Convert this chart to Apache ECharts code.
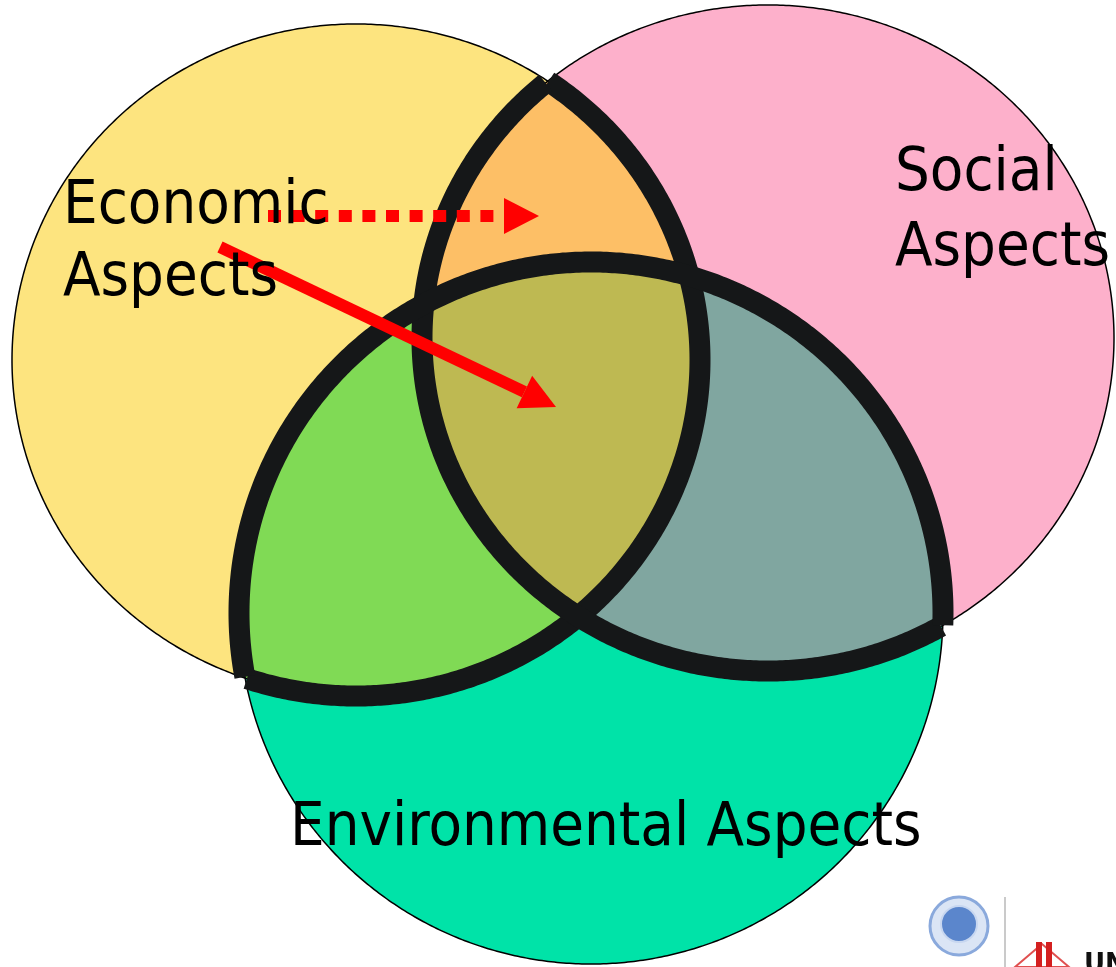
<!DOCTYPE html>
<html>
<head>
<meta charset="utf-8">
<style>html,body{margin:0;padding:0;background:#fff;overflow:hidden}#chart{width:1116px;height:967px}</style>
<script src="https://cdn.jsdelivr.net/npm/echarts@6/dist/echarts.min.js"></script>
</head>
<body>
<div id="chart"></div>
<script>
// three aspects, drawn as ellipses in picture space (x right, y down)
const setNames = ['Economic', 'Social', 'Environmental'];
const centerX = [356, 768, 591];
const centerY = [360, 338, 613];
const radiusX = [344, 346, 352];
const radiusY = [336, 333, 351];
const setColors = ['#fde47f', '#fdb0cb', '#00e3a8'];

// overlaps: which sets, and their fill
const overlapSets = [[0, 1], [0, 2], [1, 2], [0, 1, 2]];
const overlapColors = ['#fdbf66', '#80da55', '#80a6a0', '#beb952'];

const labelText = ['Economic', 'Aspects', 'Social', 'Aspects', 'Environmental Aspects'];
const labelX = [63, 63, 895, 895, 290];
const labelBaseline = [228, 300, 195, 270, 850];

const arrowStart = [[268, 216], [220, 247]];
const arrowTip = [[539, 216], [556, 407]];
const arrowDashed = [true, false];

const STEPS = 720;
const FONT = '61px "DejaVu Sans Condensed", "DejaVu Sans", sans-serif';

function ellipsePts(i) {
    const pts = [];
    for (let k = 0; k < STEPS; k++) {
        const t = k / STEPS * Math.PI * 2;
        pts.push([centerX[i] + radiusX[i] * Math.cos(t), centerY[i] + radiusY[i] * Math.sin(t)]);
    }
    return pts;
}

function inside(i, p) {
    const dx = (p[0] - centerX[i]) / radiusX[i];
    const dy = (p[1] - centerY[i]) / radiusY[i];
    return dx * dx + dy * dy <= 1;
}

// intersection of ellipses is convex, so sort boundary points by angle
function overlapPolygon(ids) {
    const pts = [];
    ids.forEach(i => ellipsePts(i).forEach(p => {
        if (ids.every(j => j === i || inside(j, p))) pts.push(p);
    }));
    const mx = pts.reduce((s, p) => s + p[0], 0) / pts.length;
    const my = pts.reduce((s, p) => s + p[1], 0) / pts.length;
    pts.sort((a, b) => Math.atan2(a[1] - my, a[0] - mx) - Math.atan2(b[1] - my, b[0] - mx));
    return pts;
}

// parts of ellipse i lying inside any other ellipse -> thick outline runs
function innerArcs(i) {
    const pts = ellipsePts(i);
    const flag = pts.map(p => [0, 1, 2].some(j => j !== i && inside(j, p)));
    const start = flag.indexOf(false);
    const runs = [];
    let cur = null;
    for (let k = 0; k <= STEPS; k++) {
        const idx = (start + k) % STEPS;
        if (flag[idx]) { (cur = cur || []).push(pts[idx]); }
        else if (cur) { runs.push(cur); cur = null; }
    }
    return runs;
}

const toPx = (api, pts) => pts.map(p => api.coord(p));

const chart = echarts.init(document.getElementById('chart'));

chart.setOption({
    animation: false,
    backgroundColor: '#ffffff',
    grid: { left: 0, right: 0, top: 0, bottom: 0 },
    xAxis: { type: 'value', min: 0, max: 1116, show: false },
    yAxis: { type: 'value', min: 0, max: 967, inverse: true, show: false },
    series: [
        {
            name: 'sets', type: 'custom', silent: true,
            data: setNames.map((n, i) => [i, 0]),
            renderItem: (params, api) => ({
                type: 'polygon',
                shape: { points: toPx(api, ellipsePts(params.dataIndex)) },
                style: { fill: setColors[params.dataIndex] }
            })
        },
        {
            name: 'overlaps', type: 'custom', silent: true,
            data: overlapSets.map((s, i) => [i, 0]),
            renderItem: (params, api) => ({
                type: 'polygon',
                shape: { points: toPx(api, overlapPolygon(overlapSets[params.dataIndex])) },
                style: { fill: overlapColors[params.dataIndex] }
            })
        },
        {
            name: 'outlines', type: 'custom', silent: true,
            data: setNames.map((n, i) => [i, 0]),
            renderItem: (params, api) => ({
                type: 'polygon',
                shape: { points: toPx(api, ellipsePts(params.dataIndex)) },
                style: { fill: 'none', stroke: '#000', lineWidth: 1.5 }
            })
        },
        {
            name: 'borders', type: 'custom', silent: true,
            data: setNames.map((n, i) => [i, 0]),
            renderItem: (params, api) => ({
                type: 'group',
                children: innerArcs(params.dataIndex).map(run => ({
                    type: 'polyline',
                    shape: { points: toPx(api, run) },
                    style: { fill: 'none', stroke: '#151718', lineWidth: 21, lineCap: 'butt', lineJoin: 'round' }
                }))
            })
        },
        {
            name: 'arrows', type: 'custom', silent: true,
            data: arrowStart.map((s, i) => [i, 0]),
            renderItem: (params, api) => {
                const i = params.dataIndex;
                const s = api.coord(arrowStart[i]);
                const t = api.coord(arrowTip[i]);
                const ang = Math.atan2(t[1] - s[1], t[0] - s[0]);
                const headLen = 35, headHalf = 18;
                const b = [t[0] - headLen * Math.cos(ang), t[1] - headLen * Math.sin(ang)];
                const nx = -Math.sin(ang), ny = Math.cos(ang);
                return {
                    type: 'group',
                    children: [
                        {
                            type: 'line',
                            shape: { x1: s[0], y1: s[1], x2: b[0], y2: b[1] },
                            style: { stroke: '#ff0000', lineWidth: 12, lineCap: 'butt', lineDash: arrowDashed[i] ? [13, 10.6] : null }
                        },
                        {
                            type: 'polygon',
                            shape: { points: [t, [b[0] + nx * headHalf, b[1] + ny * headHalf], [b[0] - nx * headHalf, b[1] - ny * headHalf]] },
                            style: { fill: '#ff0000' }
                        }
                    ]
                };
            }
        },
        {
            name: 'labels', type: 'custom', silent: true,
            data: labelText.map((t, i) => [i, 0]),
            renderItem: (params, api) => {
                const i = params.dataIndex;
                const p = api.coord([labelX[i], labelBaseline[i]]);
                return {
                    type: 'text',
                    x: p[0], y: p[1] - 21,
                    style: { text: labelText[i], font: FONT, fill: '#000', align: 'left', verticalAlign: 'middle' }
                };
            }
        }
    ],
    graphic: [
        // logos in the bottom right corner
        { type: 'circle', shape: { cx: 959, cy: 926, r: 29 }, style: { fill: '#dbe5f5', stroke: '#8aa9dc', lineWidth: 3 } },
        { type: 'circle', shape: { cx: 959, cy: 924, r: 18 }, style: { fill: '#5b86cc', stroke: '#c8d7f0', lineWidth: 2 } },
        { type: 'line', shape: { x1: 1005, y1: 897, x2: 1005, y2: 967 }, style: { stroke: '#b8b8b8', lineWidth: 1.5 } },
        { type: 'polygon', shape: { points: [[1015, 967], [1042, 944], [1069, 967]] }, style: { fill: 'none', stroke: '#e05050', lineWidth: 2 } },
        { type: 'rect', shape: { x: 1036, y: 942, width: 6, height: 25 }, style: { fill: '#d42020' } },
        { type: 'rect', shape: { x: 1046, y: 942, width: 6, height: 25 }, style: { fill: '#d42020' } },
        { type: 'text', x: 1084, y: 952, style: { text: 'UN', font: 'bold 26px "DejaVu Sans", sans-serif', fill: '#111' } }
    ]
});
</script>
</body>
</html>
